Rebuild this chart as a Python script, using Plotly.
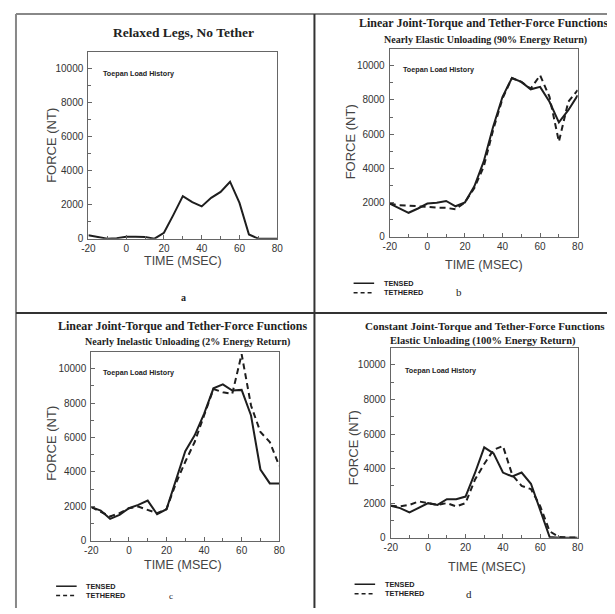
import plotly.graph_objects as go

# page is 615x614; the html body has an 8px margin, so the figure is 607x606
PAGE_OFF = 8
W, H = 615 - PAGE_OFF, 614 - PAGE_OFF

time_ms = [-20, -15, -10, -5, 0, 5, 10, 15, 20, 25, 30, 35, 40, 45, 50, 55, 60, 65, 70, 75, 80]

a_relaxed = [200, 100, 0, 30, 120, 120, 100, 0, 350, 1400, 2500, 2150, 1900, 2400, 2750, 3350, 2100, 250, 0, 0, 0]

b_tensed = [1940, 1650, 1400, 1650, 1940, 1980, 2090, 1780, 2010, 2950, 4400, 6430, 8180, 9280, 9050, 8620, 8760, 7890, 6690, 7400, 8270]
b_tethered = [1940, 1840, 1820, 1800, 1740, 1700, 1690, 1600, 2010, 2850, 4100, 6240, 8080, 9280, 9050, 8660, 9440, 8180, 5560, 7890, 8570]

c_tensed = [1950, 1750, 1270, 1500, 1890, 2080, 2330, 1540, 1830, 3530, 5200, 6130, 7380, 8860, 9090, 8730, 8770, 7280, 4140, 3330, 3330]
c_tethered = [1950, 1700, 1410, 1600, 1890, 1980, 1790, 1600, 1830, 3330, 4590, 5740, 7280, 8820, 8630, 8540, 10850, 7860, 6320, 5740, 4350]

d_tensed = [1850, 1710, 1460, 1750, 2000, 1900, 2230, 2230, 2380, 3730, 5230, 4880, 3770, 3540, 3770, 3120, 1620, 40, 0, 0, 0]
d_tethered = [1850, 1810, 1900, 2100, 2000, 1900, 2000, 1810, 2000, 3350, 4270, 5080, 5310, 3630, 3000, 2810, 1810, 370, 40, 0, 0]

x_tickvals = [-20, 0, 20, 40, 60, 80]
x_ticktext = ["-20", "0", "20", "40", "60", "80"]
y_tickvals = [0, 2000, 4000, 6000, 8000, 10000]
y_ticktext = ["0", "2000", "4000", "6000", "8000", "10000"]

titles = ["Relaxed Legs, No Tether",
          "Linear Joint-Torque and Tether-Force Functions",
          "Linear Joint-Torque and Tether-Force Functions",
          "Constant Joint-Torque and Tether-Force Functions"]
subtitles = [None,
             "Nearly Elastic Unloading (90% Energy Return)",
             "Nearly Inelastic Unloading (2% Energy Return)",
             "Elastic Unloading (100% Energy Return)"]
panel_letters = ["a", "b", "c", "d"]
inset_label = "Toepan Load History"
legend_names = ["TENSED", "TETHERED"]

# panel boxes in page pixels: (left, right, top, bottom)
boxes = [(83, 276, 52, 241), (391, 583, 49, 239), (86, 278, 355, 546), (392, 583, 351, 543)]

def px(x):
    return (x - PAGE_OFF) / W

def py(y):
    return 1 - (y - PAGE_OFF) / H

fig = go.Figure()
LINE = "#1e1e1e"
DASH = "6px,4px"

series = [[(a_relaxed, "solid")],
          [(b_tensed, "solid"), (b_tethered, DASH)],
          [(c_tensed, "solid"), (c_tethered, DASH)],
          [(d_tensed, "solid"), (d_tethered, DASH)]]

for i, (box, ser) in enumerate(zip(boxes, series)):
    n = "" if i == 0 else str(i + 1)
    for vals, dash in ser:
        fig.add_trace(go.Scatter(x=time_ms, y=vals, mode="lines",
                                 line=dict(color=LINE, width=2, dash=dash),
                                 xaxis="x" + n, yaxis="y" + n, showlegend=False,
                                 hoverinfo="skip"))
    l, r, t, b = box
    common = dict(showline=True, mirror=True, linecolor="#666", linewidth=1.2,
                  ticks="inside", ticklen=4, tickcolor="#666", showgrid=False,
                  zeroline=False, tickfont=dict(family="Liberation Sans", size=10, color="#333"))
    fig.layout["xaxis" + n] = dict(domain=[px(l), px(r)], range=[-20, 80],
                                   anchor="y" + n, tickvals=x_tickvals, ticktext=x_ticktext,
                                   minor=dict(ticks="inside", ticklen=3, tickcolor="#666", dtick=10, tick0=0),
                                   **common)
    fig.layout["yaxis" + n] = dict(domain=[py(b), py(t)], range=[0, 11000],
                                   anchor="x" + n, tickvals=y_tickvals, ticktext=y_ticktext,
                                   ticklabelstandoff=2,
                                   minor=dict(ticks="inside", ticklen=3, tickcolor="#666", dtick=1000, tick0=0),
                                   **common)

ann = []
def text(x, y, s, size, family="Liberation Sans", bold=False, xanchor="center", color="#222", angle=0):
    if bold:
        s = "<b>" + s + "</b>"
    ann.append(dict(x=px(x), y=py(y), xref="paper", yref="paper", text=s, showarrow=False,
                    xanchor=xanchor, yanchor="middle", textangle=angle,
                    font=dict(family=family, size=size, color=color)))

SERIF = "Liberation Serif"
# titles
text(180, 33, titles[0], 13.5, SERIF, True)
text(487, 23, titles[1], 12, SERIF, True)
text(489, 40, subtitles[1], 10, SERIF, True)
text(179, 329, titles[2], 12, SERIF, True)
text(184, 345, subtitles[2], 10, SERIF, True)
text(488, 329, titles[3], 11, SERIF, True)
text(486, 344, subtitles[3], 10.5, SERIF, True)

# inset labels
for (xx, yy) in [(96, 74), (402, 70), (96, 376), (404, 374)]:
    text(xx, yy, inset_label, 7.2, bold=True, xanchor="left")

# axis titles
for (fx, fy, tx, ty) in [(45, 147, 180, 264), (351, 143, 487, 268), (45, 448, 180, 571), (354, 452, 490, 573)]:
    text(fx, fy, "FORCE (NT)", 13, angle=-90, color="#444")
    text(tx, ty, "TIME (MSEC)", 12.5, color="#444")

# panel letters
text(180, 300, panel_letters[0], 10, SERIF, True)
text(462, 295, panel_letters[1], 11, SERIF)
text(167, 602, panel_letters[2], 9, SERIF)
text(472, 600, panel_letters[3], 11, SERIF)

shapes = []
# legend keys
for (lx, ly) in [(354, 286), (50, 592), (355, 590)]:
    shapes.append(dict(type="line", xref="paper", yref="paper", x0=px(lx), x1=px(lx + 21),
                       y0=py(ly), y1=py(ly), line=dict(color=LINE, width=1.5)))
    shapes.append(dict(type="line", xref="paper", yref="paper", x0=px(lx), x1=px(lx + 21),
                       y0=py(ly + 9.5), y1=py(ly + 9.5), line=dict(color=LINE, width=1.5, dash="4px,3px")))
    text(lx + 29, ly, legend_names[0], 7.3, bold=True, xanchor="left")
    text(lx + 29, ly + 9.5, legend_names[1], 7.3, bold=True, xanchor="left")

# page frame lines
shapes += [
    dict(type="line", xref="paper", yref="paper", x0=px(9), x1=px(615), y0=py(14), y1=py(14), line=dict(color="#888", width=2)),
    dict(type="line", xref="paper", yref="paper", x0=px(9), x1=px(9), y0=py(14), y1=py(614), line=dict(color="#888", width=2)),
    dict(type="line", xref="paper", yref="paper", x0=px(314), x1=px(314), y0=py(14), y1=py(614), line=dict(color="#333", width=2)),
    dict(type="line", xref="paper", yref="paper", x0=px(9), x1=px(615), y0=py(316), y1=py(316), line=dict(color="#333", width=2)),
]

fig.update_layout(width=W, height=H, margin=dict(l=0, r=0, t=0, b=0), autosize=False,
                  paper_bgcolor="white", plot_bgcolor="white", annotations=ann, shapes=shapes,
                  showlegend=False)

fig.write_html("out.html")
